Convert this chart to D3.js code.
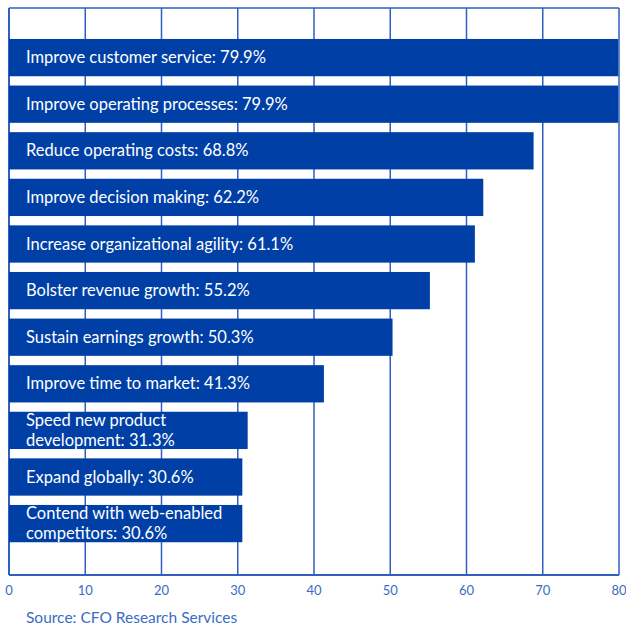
<!DOCTYPE html>
<html><head><meta charset="utf-8">
<script src="https://cdn.jsdelivr.net/npm/d3@7"></script>
<style>body{margin:0;background:#fff;}svg{display:block;}</style>
</head><body>
<svg id="chart" width="626" height="627"></svg>
<script>
const categories = [
  ["Improve customer service: 79.9%"],
  ["Improve operating processes: 79.9%"],
  ["Reduce operating costs: 68.8%"],
  ["Improve decision making: 62.2%"],
  ["Increase organizational agility: 61.1%"],
  ["Bolster revenue growth: 55.2%"],
  ["Sustain earnings growth: 50.3%"],
  ["Improve time to market: 41.3%"],
  ["Speed new product", "development: 31.3%"],
  ["Expand globally: 30.6%"],
  ["Contend with web-enabled", "competitors: 30.6%"]
];
const values = [79.9, 79.9, 68.8, 62.2, 61.1, 55.2, 50.3, 41.3, 31.3, 30.6, 30.6];
const ticks = [0, 10, 20, 30, 40, 50, 60, 70, 80];
const source = "Source: CFO Research Services";

(function () {
const svg = d3.select("#chart");
const x = d3.scaleLinear().domain([0, 80]).range([9, 619]);
const ids = values.map((d, i) => i);
const y = d3.scaleBand().domain(ids).range([34.3, 546.9]).paddingInner(0.2).paddingOuter(0.1);
const plotTop = 8, plotBottom = 575;
const gridColor = "#2f5fbf";
const barColor = "#0040a6";
const font = "Lato, 'Open Sans', sans-serif";

svg.append("g").selectAll("line").data(ticks).join("line")
  .attr("x1", d => x(d)).attr("x2", d => x(d))
  .attr("y1", plotTop).attr("y2", plotBottom)
  .attr("stroke", gridColor).attr("stroke-width", d => d === 0 ? 2 : 1.5);
svg.append("line").attr("x1", x(0)).attr("x2", x(80)).attr("y1", plotTop).attr("y2", plotTop)
  .attr("stroke", gridColor).attr("stroke-width", 1.5);
svg.append("line").attr("x1", x(0)).attr("x2", x(80)).attr("y1", plotBottom).attr("y2", plotBottom)
  .attr("stroke", gridColor).attr("stroke-width", 2);

svg.append("g").selectAll("rect").data(values).join("rect")
  .attr("x", x(0)).attr("y", (d, i) => y(i))
  .attr("width", d => x(d) - x(0)).attr("height", y.bandwidth())
  .attr("fill", barColor);

// one text element per label line
const lines = [];
categories.forEach((c, i) => {
  c.forEach((line, j) => lines.push({ i, j, n: c.length, line }));
});
const lh = 20;
svg.append("g").selectAll("text").data(lines).join("text")
  .attr("x", 26)
  .attr("y", d => y(d.i) + y.bandwidth() / 2 + 5.5 + (d.j - (d.n - 1) / 2) * lh)
  .attr("fill", "#fff")
  .attr("font-family", font)
  .attr("font-size", 16.5)
  .text(d => d.line);

svg.append("g").selectAll("text").data(ticks).join("text")
  .attr("x", d => x(d)).attr("y", 595)
  .attr("text-anchor", "middle")
  .attr("fill", "#3a6cc4")
  .attr("font-family", font)
  .attr("font-size", 13)
  .text(d => d);

svg.append("text").attr("x", 26).attr("y", 623)
  .attr("fill", "#3a6cc4")
  .attr("font-family", font)
  .attr("font-size", 15.5)
  .text(source);
})();
</script>
</body></html>
